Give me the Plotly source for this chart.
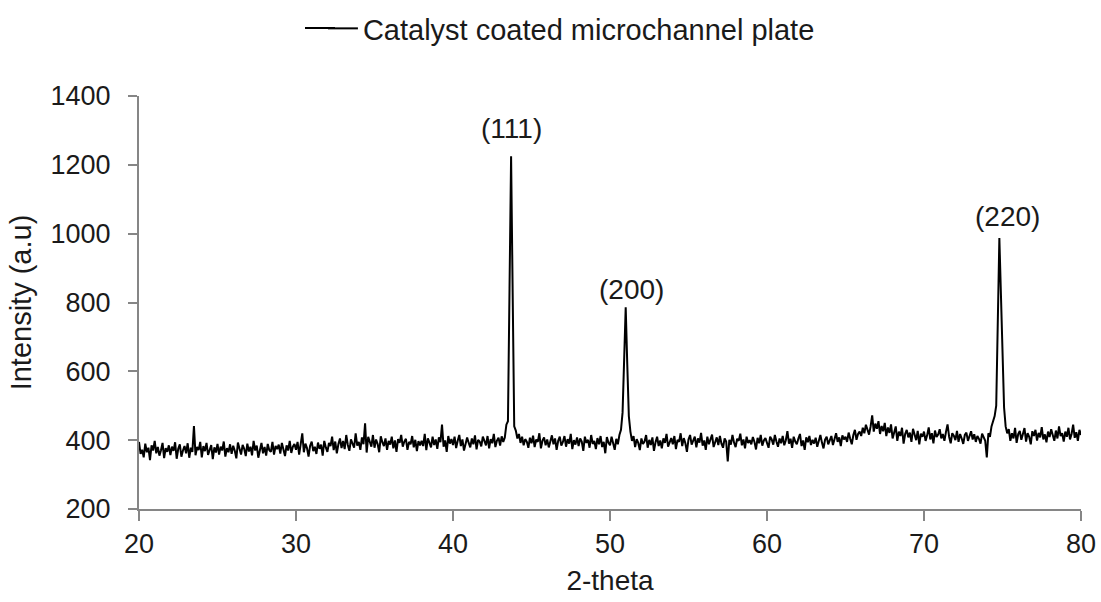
import numpy as np
import plotly.graph_objects as go

two_theta_start = 20.0
two_theta_step = 0.1

intensity = [
    395, 360, 372, 350, 390, 365, 378, 342, 385, 370,
    398, 362, 380, 355, 371, 392, 348, 377, 366, 385,
    357, 381, 369, 394, 346, 375, 388, 352, 370, 383,
    362, 391, 349, 378, 366, 441, 356, 380, 371, 395,
    350, 383, 368, 392, 357, 374, 386, 345, 379, 364,
    389, 358, 381, 370, 396, 352, 377, 365, 388, 360,
    384, 369, 347, 393, 372, 358, 386, 375, 354, 390,
    367, 381, 356, 398, 370, 384, 349, 377, 392, 362,
    380, 355, 389, 371, 366, 395, 358, 383, 374, 387,
    361, 392, 376, 354, 385, 370, 398, 363, 381, 389,
    372, 395, 358, 386, 420, 365, 390, 377, 352, 384,
    396, 368, 381, 360, 393, 375, 387, 355, 398, 379,
    366, 392, 383, 410, 371, 396, 362, 388, 405, 377,
    398, 374, 415, 386, 369, 402, 391, 378, 420, 384,
    395, 372, 408, 388, 449, 364, 410, 392, 381, 415,
    378, 402, 389, 365, 411, 394, 383, 405, 372, 398,
    387, 410, 376, 399, 366, 403, 392, 415, 381, 396,
    404, 372, 395, 388, 412, 379, 401, 368, 397, 385,
    398, 383, 418, 371, 405, 393, 379, 410, 386, 402,
    375, 408, 394, 445, 381, 399, 366, 412, 390, 403,
    386, 410, 377, 398, 415, 383, 402, 370, 395, 408,
    392, 379, 405, 388, 414, 373, 401, 396, 382, 410,
    398, 385, 412, 376, 403, 391, 418, 380, 399, 407,
    384, 411, 395, 408, 445, 455, 840, 1225, 830, 440,
    428, 405, 418, 392, 410, 385, 403, 396, 378, 407,
    391, 413, 380, 402, 395, 420, 376, 399, 408, 385,
    402, 379, 396, 414, 388, 405, 372, 398, 410, 384,
    395, 412, 381, 403, 390, 418, 374, 400, 387, 408,
    383, 405, 396, 369, 410, 392, 401, 378, 415, 389,
    398, 374, 406, 388, 412, 380, 395, 362, 409, 393,
    385, 410, 391, 372, 404, 388, 415, 430, 480, 640,
    786, 620, 470, 425, 398, 412, 380, 403, 392, 371,
    405, 389, 396, 415, 378, 401, 386, 408, 369, 394,
    410, 383, 399, 376, 405, 392, 418, 381, 397, 406,
    388, 412, 374, 401, 395, 420, 383, 406, 391, 366,
    402, 415, 387, 398, 410, 379, 405, 393, 421, 384,
    399, 372, 410, 388, 403, 416, 380, 397, 408, 386,
    412, 390, 378, 405, 396, 338, 401, 387, 415, 393,
    380, 404, 398, 419, 385, 402, 376, 410, 392, 400,
    388, 409, 395, 373, 407, 391, 415, 384, 399, 406,
    394, 378, 410, 402, 387, 415, 396, 381, 405, 391,
    412, 385, 400, 426, 390, 404, 378, 410, 396, 388,
    405, 418, 383, 399, 372, 408, 394, 412, 386, 401,
    390, 407, 381, 398, 415, 393, 376, 402, 410, 388,
    399, 412, 386, 404, 420, 395, 408, 383, 414, 402,
    410, 395, 422, 404, 388, 415, 430, 401, 418, 425,
    412, 436, 420, 445, 428, 416, 440, 472, 425, 448,
    433, 455, 418, 441, 426, 450, 412, 437, 421, 446,
    405, 428, 440, 398, 425, 412, 436, 390, 418, 430,
    408, 422, 395, 433, 415, 400, 427, 388, 419, 410,
    425, 398, 414, 437, 402, 420, 391, 428, 409, 416,
    432, 405, 418, 398, 424, 446, 410, 391, 420, 413,
    400, 427, 395, 418, 405, 389, 415, 422, 398, 410,
    426, 402, 417, 395, 412, 404, 390, 419, 408, 398,
    350, 420, 410, 440, 455, 470, 500, 760, 987, 823,
    659, 495, 440, 420, 432, 398, 420, 405, 436, 392,
    418, 427, 401, 415, 435, 396, 420, 410, 388, 426,
    412, 430, 399, 421, 408, 438, 402, 417, 394, 425,
    409, 432, 415, 398, 428, 405, 440, 412, 420, 396,
    425, 410, 436, 402, 418, 445, 407, 423, 398, 430,
    415,
]
two_theta = [round(two_theta_start + i * two_theta_step, 1) for i in range(len(intensity))]

peak_labels = ["(111)", "(200)", "(220)"]
peak_label_x = [43.7, 51.4, 75.35]
peak_label_y = [1306, 838, 1050]

x_ticks = [20, 30, 40, 50, 60, 70, 80]
y_ticks = [200, 400, 600, 800, 1000, 1200, 1400]

FONT = "Liberation Sans, Arial, sans-serif"
TXT = "#1a1a1a"
AX = "#868686"

fig = go.Figure()
fig.add_trace(go.Scatter(
    x=two_theta, y=intensity, mode="lines",
    name="Catalyst coated microchannel plate",
    line=dict(color="#000000", width=2),
))

for lab, lx, ly in zip(peak_labels, peak_label_x, peak_label_y):
    fig.add_annotation(x=lx, y=ly, text=lab, showarrow=False,
                       font=dict(family=FONT, size=28, color=TXT))

# extend legend sample line to the left (reference legend line is longer)
fig.add_shape(type="line", xref="paper", yref="paper",
              x0=(305 - 139) / 942, x1=(335 - 139) / 942,
              y0=1 + (96 - 28) / 413, y1=1 + (96 - 28) / 413,
              line=dict(color="#000000", width=2))

fig.update_layout(
    width=1101, height=602,
    margin=dict(l=139, r=20, t=96, b=93),
    plot_bgcolor="white", paper_bgcolor="white",
    font=dict(family=FONT, size=28, color=TXT),
    showlegend=True,
    legend=dict(orientation="h", xref="container", yref="container",
                x=0.519, xanchor="center", y=0.995, yanchor="top",
                font=dict(family=FONT, size=29, color=TXT),
                bgcolor="rgba(0,0,0,0)"),
    xaxis=dict(
        range=[20, 80], tickvals=x_ticks, ticktext=[str(v) for v in x_ticks],
        showgrid=False, zeroline=False, showline=True, linecolor=AX, linewidth=2,
        ticks="outside", ticklen=10, tickwidth=2, tickcolor=AX, automargin=False,
        tickfont=dict(family=FONT, size=27, color=TXT),
        title=dict(text="2-theta", font=dict(family=FONT, size=28, color=TXT), standoff=12),
    ),
    yaxis=dict(
        range=[200, 1400], tickvals=y_ticks, ticktext=[str(v) for v in y_ticks],
        showgrid=False, zeroline=False, showline=True, linecolor=AX, linewidth=2,
        ticks="outside", ticklen=9, tickwidth=2, tickcolor=AX, automargin=False,
        ticklabelstandoff=12,
        tickfont=dict(family=FONT, size=27, color=TXT),
        title=dict(text="Intensity (a.u)", font=dict(family=FONT, size=29, color=TXT), standoff=10),
    ),
)

fig.write_html("out.html")
